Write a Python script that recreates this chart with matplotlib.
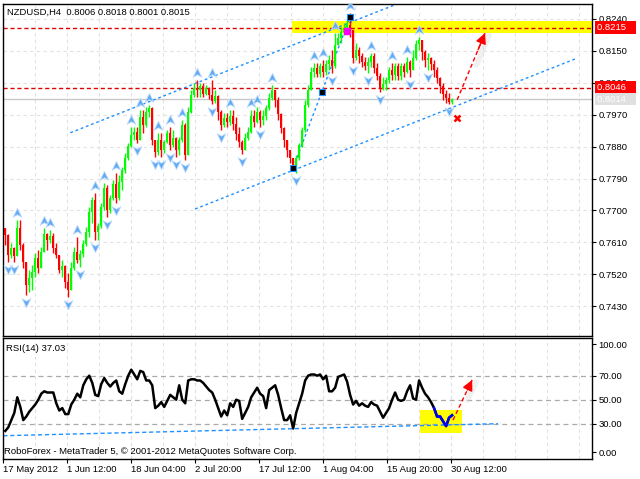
import numpy as np
import matplotlib.pyplot as plt
import matplotlib.transforms as mtransforms
from matplotlib.path import Path
from matplotlib.patches import Rectangle

plt.rcParams['font.family'] = ['Liberation Sans', 'DejaVu Sans']
plt.rcParams['font.size'] = 7

# NZDUSD bars (open = previous close)
first_open = 0.7651
closes = np.array([
    0.7631, 0.7575, 0.7594, 0.7572, 0.7651, 0.7603, 0.7555, 0.7490, 0.7510, 0.7527,
    0.7566, 0.7538, 0.7583, 0.7634, 0.7617, 0.7628, 0.7594, 0.7575, 0.7532, 0.7543,
    0.7498, 0.7476, 0.7538, 0.7583, 0.7560, 0.7577, 0.7606, 0.7639, 0.7696, 0.7730,
    0.7639, 0.7656, 0.7710, 0.7763, 0.7701, 0.7735, 0.7775, 0.7735, 0.7780, 0.7814,
    0.7848, 0.7882, 0.7913, 0.7921, 0.7899, 0.7964, 0.7941, 0.7978, 0.7989, 0.7899,
    0.7865, 0.7899, 0.7871, 0.7893, 0.7919, 0.7885, 0.7904, 0.7871, 0.7899, 0.7941,
    0.7857, 0.7978, 0.8026, 0.8045, 0.8040, 0.8051, 0.8029, 0.8045, 0.8026, 0.8009,
    0.8023, 0.7978, 0.7941, 0.7961, 0.7950, 0.7967, 0.7944, 0.7916, 0.7893, 0.7871,
    0.7904, 0.7921, 0.7967, 0.7950, 0.7978, 0.7955, 0.7967, 0.7989, 0.8017, 0.8040,
    0.8012, 0.7972, 0.7933, 0.7899, 0.7871, 0.7848, 0.7828, 0.7848, 0.7885, 0.7927,
    0.7998, 0.8040, 0.8091, 0.8102, 0.8085, 0.8108, 0.8091, 0.8113, 0.8124, 0.8108,
    0.8167, 0.8186, 0.8203, 0.8215, 0.8223, 0.8209, 0.8130, 0.8153, 0.8136, 0.8119,
    0.8108, 0.8119, 0.8136, 0.8102, 0.8079, 0.8045, 0.8057, 0.8068, 0.8096, 0.8082,
    0.8108, 0.8079, 0.8108, 0.8091, 0.8119, 0.8096, 0.8130, 0.8170, 0.8181, 0.8147,
    0.8124, 0.8130, 0.8113, 0.8096, 0.8074, 0.8051, 0.8029, 0.8017, 0.8006, 0.8015])
highs = np.array([
    0.7651, 0.7634, 0.7608, 0.7597, 0.7673, 0.7673, 0.7608, 0.7555, 0.7532, 0.7546,
    0.7580, 0.7589, 0.7597, 0.7651, 0.7637, 0.7645, 0.7637, 0.7608, 0.7575, 0.7560,
    0.7546, 0.7524, 0.7555, 0.7597, 0.7625, 0.7589, 0.7617, 0.7653, 0.7710, 0.7738,
    0.7749, 0.7665, 0.7721, 0.7778, 0.7772, 0.7744, 0.7786, 0.7806, 0.7800, 0.7823,
    0.7862, 0.7890, 0.7936, 0.7936, 0.7936, 0.7983, 0.7983, 0.7992, 0.7998, 0.7992,
    0.7899, 0.7919, 0.7919, 0.7899, 0.7927, 0.7936, 0.7927, 0.7907, 0.7907, 0.7955,
    0.7947, 0.7992, 0.8040, 0.8060, 0.8068, 0.8060, 0.8060, 0.8054, 0.8048, 0.8068,
    0.8040, 0.8026, 0.7983, 0.7975, 0.7975, 0.7983, 0.7983, 0.7964, 0.7936, 0.7899,
    0.7919, 0.7936, 0.7983, 0.7983, 0.7992, 0.7983, 0.7983, 0.7998, 0.8031, 0.8054,
    0.8040, 0.8020, 0.7975, 0.7936, 0.7899, 0.7871, 0.7848, 0.7857, 0.7890, 0.7936,
    0.8012, 0.8054, 0.8105, 0.8116, 0.8116, 0.8116, 0.8124, 0.8124, 0.8139, 0.8153,
    0.8200, 0.8200, 0.8217, 0.8229, 0.8237, 0.8257, 0.8209, 0.8172, 0.8161, 0.8144,
    0.8133, 0.8133, 0.8144, 0.8144, 0.8116, 0.8088, 0.8076, 0.8076, 0.8105, 0.8116,
    0.8116, 0.8116, 0.8116, 0.8116, 0.8133, 0.8124, 0.8153, 0.8181, 0.8189, 0.8181,
    0.8153, 0.8144, 0.8133, 0.8124, 0.8105, 0.8076, 0.8060, 0.8040, 0.8031, 0.8018])
lows = np.array([
    0.7603, 0.7555, 0.7566, 0.7555, 0.7572, 0.7589, 0.7538, 0.7462, 0.7470, 0.7476,
    0.7512, 0.7524, 0.7538, 0.7583, 0.7589, 0.7608, 0.7580, 0.7566, 0.7524, 0.7512,
    0.7481, 0.7456, 0.7476, 0.7532, 0.7552, 0.7541, 0.7569, 0.7600, 0.7625, 0.7665,
    0.7617, 0.7617, 0.7651, 0.7701, 0.7682, 0.7693, 0.7730, 0.7721, 0.7730, 0.7758,
    0.7806, 0.7842, 0.7879, 0.7899, 0.7890, 0.7899, 0.7919, 0.7936, 0.7964, 0.7885,
    0.7851, 0.7857, 0.7851, 0.7862, 0.7890, 0.7871, 0.7879, 0.7851, 0.7857, 0.7893,
    0.7842, 0.7857, 0.7975, 0.8020, 0.8020, 0.8020, 0.8020, 0.8026, 0.8014, 0.8000,
    0.8003, 0.7955, 0.7927, 0.7936, 0.7936, 0.7941, 0.7927, 0.7899, 0.7879, 0.7859,
    0.7871, 0.7899, 0.7919, 0.7936, 0.7947, 0.7936, 0.7941, 0.7955, 0.7983, 0.8012,
    0.7992, 0.7955, 0.7919, 0.7879, 0.7851, 0.7834, 0.7814, 0.7806, 0.7842, 0.7879,
    0.7922, 0.7992, 0.8040, 0.8076, 0.8076, 0.8076, 0.8076, 0.8082, 0.8096, 0.8088,
    0.8102, 0.8167, 0.8172, 0.8195, 0.8200, 0.8189, 0.8116, 0.8124, 0.8116, 0.8105,
    0.8096, 0.8088, 0.8105, 0.8088, 0.8068, 0.8034, 0.8040, 0.8040, 0.8060, 0.8068,
    0.8068, 0.8068, 0.8068, 0.8076, 0.8088, 0.8076, 0.8096, 0.8124, 0.8153, 0.8124,
    0.8105, 0.8096, 0.8096, 0.8076, 0.8060, 0.8031, 0.8012, 0.8003, 0.8000, 0.8001])

rsi = np.array([
    24, 27, 33, 39, 52, 44, 33, 36, 40, 43,
    46, 50, 55, 57, 56, 56, 56, 47, 41, 43,
    38, 38, 46, 50, 55, 52, 62, 67, 70, 64,
    54, 53, 63, 68, 64, 61, 64, 66, 57, 55,
    63, 70, 75, 71, 67, 74, 73, 66, 66, 62,
    43, 45, 48, 44, 49, 54, 52, 50, 62, 50,
    47, 66, 67, 67, 66, 66, 64, 61, 58, 56,
    50, 43, 36, 41, 37, 47, 44, 50, 49, 34,
    39, 44, 52, 56, 60, 55, 53, 43, 58, 60,
    62, 54, 43, 33, 33, 37, 26, 39, 47, 55,
    66, 70, 71, 71, 70, 71, 67, 70, 57, 57,
    60, 69, 70, 71, 65, 54, 46, 49, 45, 47,
    45, 44, 48, 46, 45, 40, 35, 39, 43, 50,
    56, 50, 49, 50, 57, 62, 51, 50, 66, 60,
    55, 52, 48, 43, 36, 36, 32, 28, 35, 37.03])

price_ticks = [0.8240, 0.8150, 0.8060, 0.7970, 0.7880, 0.7790, 0.7700, 0.7610, 0.7520, 0.7430]
rsi_ticks = [6.4, 30, 50, 70, 96]
rsi_tick_labels = ['0.00', '30.00', '50.00', '70.00', '100.00']
rsi_levels = [30, 50, 70]

time_ticks = [-0.77, 20.56, 41.9, 63.2, 84.6, 105.9, 127.2, 148.6]
time_labels = ['17 May 2012', '1 Jun 12:00', '18 Jun 04:00', '2 Jul 20:00',
               '17 Jul 12:00', '1 Aug 04:00', '15 Aug 20:00', '30 Aug 12:00']

header = 'NZDUSD,H4  0.8006 0.8018 0.8001 0.8015'
rsi_title = 'RSI(14) 37.03'
copyright_text = 'RoboForex - MetaTrader 5, \u00a9 2001-2012 MetaQuotes Software Corp.'

# drawn objects, anchors as (bar, price)
channel_top = ([21.7, 130.0], [0.7919, 0.8280])
channel_bottom = ([63.3, 190.0], [0.7704, 0.8127])
wave_line = ([96.0, 115.0], [0.7820, 0.8246])
target_zone = (95.7, 0.8200, 0.8234)
level_lines = [0.8215, 0.8046]
bid = 0.8014
forecast_arrow = ([150.7, 160.0], [0.8012, 0.8200])
stop_mark = (150.7, 0.7961)
pink_mark = (114.0, 0.8206)

rsi_trend = ([-0.67, 164.3], [20.0, 30.0])
rsi_zone = (138.3, 152.3, 22.2, 41.4)
rsi_arrow = ([149.3, 155.7], [33.0, 66.5])
rsi_blue_from = 143

W, H = 640, 479
fig = plt.figure(figsize=(6.4, 4.79), dpi=100)


def px_axes(x0, y0, x1, y1):
    return fig.add_axes([x0 / W, 1 - y1 / H, (x1 - x0) / W, (y1 - y0) / H])


ax = px_axes(3, 4, 592, 336)
ax2 = px_axes(3, 338, 592, 459)

xlim = (-0.67, 195.67)
grid_x = np.arange(time_ticks[0], xlim[1], (time_ticks[1] - time_ticks[0]) / 2)
grid_kw = dict(color='#e2e2e2', linestyle=(0, (3, 3)), linewidth=0.8)
label_size = 6.8

for a in (ax, ax2):
    a.set_xlim(*xlim)
    for s in a.spines.values():
        s.set_color('black')
        s.set_linewidth(1)
    a.set_axisbelow(True)

# ---- price panel
ax.set_ylim(0.7346, 0.8282)
ax.yaxis.tick_right()
ax.set_yticks(price_ticks)
ax.set_yticklabels([f'{p:.4f}' for p in price_ticks])
ax.tick_params(axis='y', direction='out', length=3, pad=1.5, labelsize=label_size)
ax.set_xticks(grid_x)
ax.tick_params(axis='x', length=0, labelbottom=False)
ax.grid(True, **grid_kw)

ax.add_patch(Rectangle((target_zone[0], target_zone[1]), 300, target_zone[2] - target_zone[1],
                       fc='#ffff00', ec='none', zorder=1))
for lv in level_lines:
    ax.axhline(lv, color='#e00000', linestyle=(0, (3, 2)), linewidth=1, zorder=2)
ax.axhline(bid, color='#c8c8c8', linewidth=1, zorder=2)

line_kw = dict(color='#1e90ff', linestyle=(0, (2, 2)), linewidth=1, zorder=2)
ax.plot(*channel_top, **line_kw)
ax.plot(*channel_bottom, **line_kw)
ax.plot(*wave_line, **line_kw)

n = len(closes)
bars = np.arange(n)
opens = np.r_[first_open, closes[:-1]]
colors = np.where(closes >= opens, '#00ff00', '#ff0000')
ax.vlines(bars, lows, highs, colors=colors, linewidth=1, zorder=3)
ax.bar(bars, np.abs(closes - opens), bottom=np.minimum(opens, closes), width=0.75,
       color=colors, zorder=3)

# fractal arrows
up_fr = [i for i in range(1, n - 1) if highs[i] > highs[i - 1] and highs[i] >= highs[i + 1]]
dn_fr = [i for i in range(1, n - 1) if lows[i] < lows[i - 1] and lows[i] <= lows[i + 1]]
codes = [Path.MOVETO, Path.LINETO, Path.LINETO, Path.LINETO, Path.CLOSEPOLY]
up_arrow = Path([(0, 1), (0.85, -0.75), (0, -0.25), (-0.85, -0.75), (0, 1)], codes)
dn_arrow = Path([(0, -1), (0.85, 0.75), (0, 0.25), (-0.85, 0.75), (0, -1)], codes)
above = mtransforms.offset_copy(ax.transData, fig=fig, y=7, units='dots')
below = mtransforms.offset_copy(ax.transData, fig=fig, y=-7, units='dots')
fr_kw = dict(linestyle='none', ms=7.5, mfc='#62aaf4', mec='#c4e0fc', mew=0.6, zorder=4)
ax.plot(up_fr, highs[up_fr], marker=up_arrow, transform=above, **fr_kw)
ax.plot(dn_fr, lows[dn_fr], marker=dn_arrow, transform=below, **fr_kw)

wx = [wave_line[0][0], np.mean(wave_line[0]), wave_line[0][1]]
wy = [wave_line[1][0], np.mean(wave_line[1]), wave_line[1][1]]
ax.plot(wx, wy, 's', ms=4, mfc='black', mec='#1e90ff', mew=0.8, zorder=5)
ax.plot(*pink_mark, 's', ms=4.5, color='#ff00ff', zorder=5)


def red_arrow(a, xs, ys):
    # faint grey shadow next to the head, like the terminal draws it
    shadow = mtransforms.offset_copy(a.transData, fig=fig, x=4, y=-2, units='dots')
    sx = [xs[0] + 0.55 * (xs[1] - xs[0]), xs[1]]
    sy = [ys[0] + 0.55 * (ys[1] - ys[0]), ys[1]]
    a.plot(sx, sy, color='#d4d4d4', linewidth=4, alpha=0.35, solid_capstyle='round',
           transform=shadow, zorder=5)
    a.plot(xs, ys, color='red', linestyle=(0, (3, 2)), linewidth=1, zorder=6)
    x0 = xs[0] + 0.75 * (xs[1] - xs[0])
    y0 = ys[0] + 0.75 * (ys[1] - ys[0])
    a.annotate('', xy=(xs[1], ys[1]), xytext=(x0, y0), zorder=6,
               arrowprops=dict(arrowstyle='-|>,head_length=0.9,head_width=0.45',
                               color='red', lw=1, shrinkA=0, shrinkB=0))


red_arrow(ax, *forecast_arrow)
ax.plot(*stop_mark, marker='x', color='red', ms=5, mew=1.8, zorder=6)

ylab = mtransforms.blended_transform_factory(ax.transAxes, ax.transData)
for v, fc, tc in [(level_lines[0], '#ff0000', 'white'), (level_lines[1], '#ff0000', 'white'),
                  (bid, '#e0e0e0', 'white')]:
    ax.text(1.0085, v, f'{v:.4f}   ', transform=ylab, ha='left', va='center', color=tc,
            fontsize=label_size, clip_on=False, zorder=7,
            bbox=dict(boxstyle='square,pad=0.2', fc=fc, ec='none'))

ax.text(0.0068, 0.976, header, transform=ax.transAxes, ha='left', va='center', fontsize=6.8)

# ---- RSI panel
ax2.set_ylim(0.6, 101.4)
ax2.yaxis.tick_right()
ax2.set_yticks(rsi_ticks)
ax2.set_yticklabels(rsi_tick_labels)
ax2.tick_params(axis='y', direction='out', length=3, pad=1.5, labelsize=label_size)
ax2.set_xticks(time_ticks)
ax2.set_xticklabels(time_labels)
for lbl in ax2.get_xticklabels():
    lbl.set_horizontalalignment('left')
ax2.set_xticks(grid_x, minor=True)
ax2.tick_params(axis='x', which='major', direction='out', length=3, pad=1.5, labelsize=label_size)
ax2.tick_params(axis='x', which='minor', length=0)
ax2.grid(True, axis='x', which='both', **grid_kw)

ax2.add_patch(Rectangle((rsi_zone[0], rsi_zone[2]), rsi_zone[1] - rsi_zone[0],
                        rsi_zone[3] - rsi_zone[2], fc='#ffff00', ec='none', zorder=1))
for lv in rsi_levels:
    ax2.axhline(lv, color='#aaaaaa', linestyle=(0, (4, 3)), linewidth=0.9, zorder=2)
ax2.plot(*rsi_trend, color='#1e90ff', linestyle=(0, (3, 2)), linewidth=1, zorder=2)
ax2.plot(bars, rsi, color='black', linewidth=1.8, zorder=3)
ax2.plot(bars[rsi_blue_from:], rsi[rsi_blue_from:], color='#0000ff', linewidth=1.8, zorder=4)
red_arrow(ax2, *rsi_arrow)

ax2.text(0.005, 0.917, rsi_title, transform=ax2.transAxes, ha='left', va='center', fontsize=6.8)
ax2.text(0.002, 0.066, copyright_text, transform=ax2.transAxes, ha='left', va='center',
         fontsize=6.8)

fig.savefig('out.png', dpi=100)
